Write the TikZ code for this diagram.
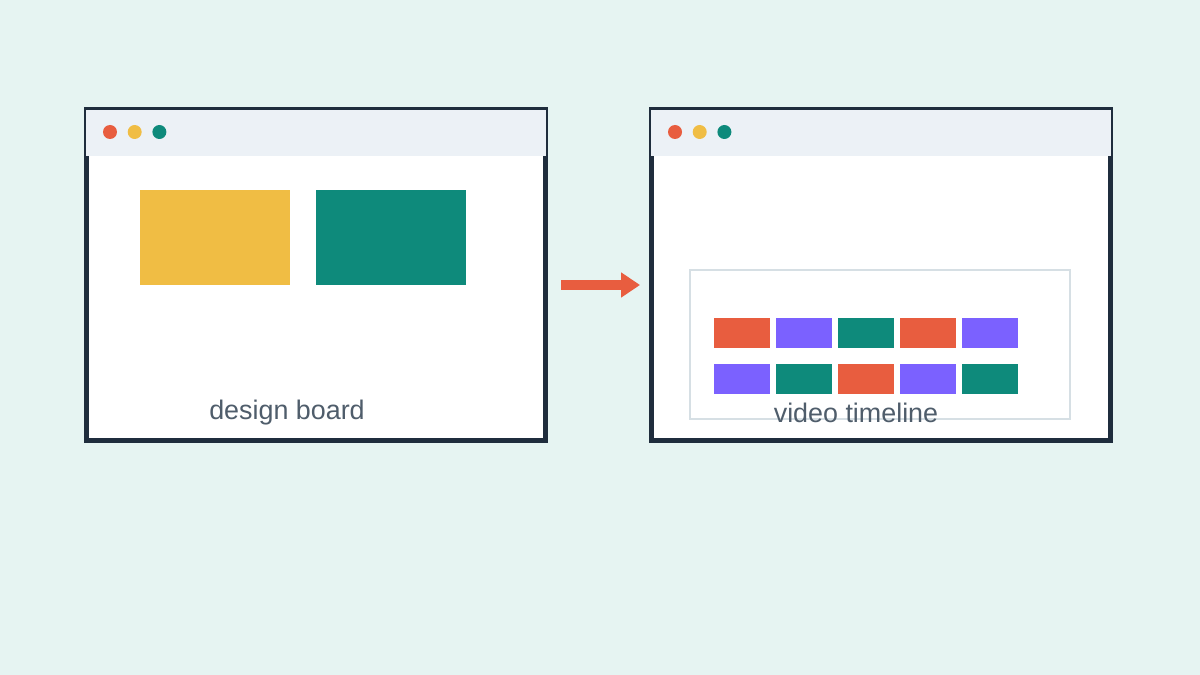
\documentclass[tikz,border=0pt]{standalone}
\usepackage{fontspec}
\setmainfont{Liberation Sans}
\usetikzlibrary{arrows.meta, positioning}
\definecolor{bgmint}{HTML}{E6F4F2}
\definecolor{winframe}{HTML}{1F2D3D}
\definecolor{barfill}{HTML}{ECF1F6}
\definecolor{dotred}{HTML}{E85D3F}
\definecolor{dotyellow}{HTML}{F0BD44}
\definecolor{dotteal}{HTML}{0E8A7B}
\definecolor{clipviolet}{HTML}{7B61FF}
\definecolor{trackgray}{HTML}{D6DFE4}
\definecolor{captiongray}{HTML}{4F5D6B}
\tikzset{
  window/.style = {draw=winframe, line width=0.1cm, fill=white, inner sep=0pt,
    minimum width=9.18cm, minimum height=6.62cm},
  titlebar/.style = {fill=barfill, inner sep=0pt,
    minimum width=9.2cm, minimum height=0.92cm},
  dot/.style = {circle, inner sep=0pt, minimum size=0.28cm},
  card/.style = {inner sep=0pt, minimum width=3cm, minimum height=1.9cm},
  clip/.style = {inner sep=0pt, minimum width=1.12cm, minimum height=0.6cm},
  track/.style = {draw=trackgray, line width=1.5pt, inner sep=0pt,
    minimum width=7.6cm, minimum height=2.98cm},
  caption/.style = {text=captiongray, font=\fontsize{15.3}{18}\selectfont},
  flow/.style = {dotred, line width=0.2cm,
    -{Triangle[length=0.38cm,width=0.48cm]}}
}

\begin{document}
\begin{tikzpicture}[x=0.02cm, y=-0.02cm]
\useasboundingbox[fill=bgmint] (0,0) rectangle (1200,675);

% design board window
\node [window] (boardwin) at (316,275) {};
\node [titlebar] (boardbar) at (316,133) {};
\node [dot, fill=dotred] (boarddot1) at (110,132) {};
\node [dot, fill=dotyellow, right=0.2cm of boarddot1] (boarddot2) {};
\node [dot, fill=dotteal, right=0.2cm of boarddot2] (boarddot3) {};
\node [card, fill=dotyellow] (yellowcard) at (215,237.5) {};
\node [card, fill=dotteal, right=0.5cm of yellowcard] (tealcard) {};
\node [caption] (boardtext) at (287,413) {design board};

% video timeline window
\node [window] (timewin) at (881,275) {};
\node [titlebar] (timebar) at (881,133) {};
\node [dot, fill=dotred] (timedot1) at (675,132) {};
\node [dot, fill=dotyellow, right=0.2cm of timedot1] (timedot2) {};
\node [dot, fill=dotteal, right=0.2cm of timedot2] (timedot3) {};
\node [track] (track) at (880,344.5) {};
\foreach \col [count=\i from 0] in {dotred, clipviolet, dotteal, dotred, clipviolet}
  \node [clip, fill=\col] (upper\i) at (742+62*\i,333) {};
\foreach \col [count=\i from 0] in {clipviolet, dotteal, dotred, clipviolet, dotteal}
  \node [clip, fill=\col] (lower\i) at (742+62*\i,379) {};
\node [caption] (timetext) at (856,413) {video timeline};

% arrow between the windows
\draw [flow, shorten <=0.27cm, shorten >=0.18cm]
  ([yshift=-0.2cm]boardwin.east) -- ([yshift=-0.2cm]timewin.west);
\end{tikzpicture}
\end{document}
